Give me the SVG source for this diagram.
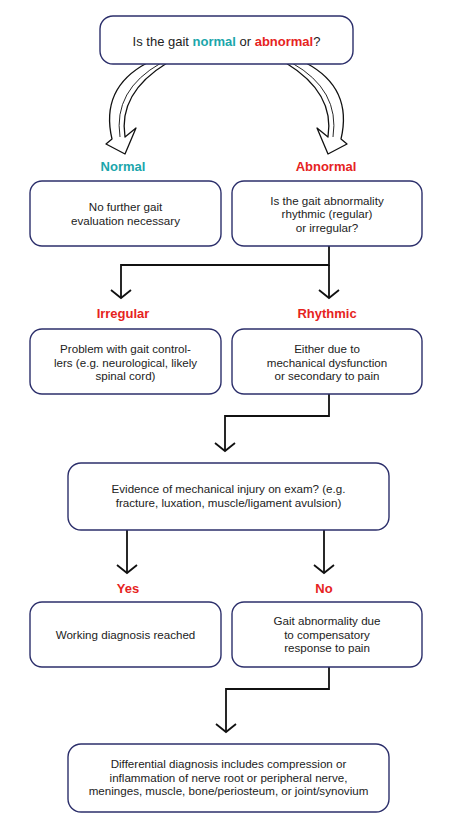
<svg xmlns="http://www.w3.org/2000/svg" width="450" height="832" viewBox="0 0 450 832">
<defs>
<style>
.box{fill:#fff;stroke:#2c2f6b;stroke-width:1.4}
.t{font-family:"Liberation Sans",Arial,sans-serif;font-size:11.6px;fill:#222;text-anchor:middle}
.q{font-size:13px}
.lab{font-family:"Liberation Sans",Arial,sans-serif;font-size:13px;font-weight:bold;text-anchor:middle}
.teal{fill:#1ba6ab}
.red{fill:#e6231e}
.con{fill:none;stroke:#111;stroke-width:1.8}
.curv{fill:#fff;stroke:#111;stroke-width:1.3;stroke-linejoin:round}
.inner{fill:none;stroke:#111;stroke-width:0.9}
</style>
<marker id="ah" markerUnits="userSpaceOnUse" markerWidth="12" markerHeight="24" viewBox="-10 -12 12 24" refX="0" refY="0" orient="auto">
<path d="M-8,-10 L0,0 L-8,10" fill="none" stroke="#111" stroke-width="1.8"/>
</marker>
</defs>
<rect width="450" height="832" fill="#fff"/>
<g id="connectors">
<g id="curved-left">
<path class="curv" d="M147,63 Q100,88 112,139 L106,144 L125,154 L136,128 L125,137 Q118,93 167,63 Z"/>
<path class="inner" d="M161,63 Q113,90 120,137"/>
</g>
<g id="curved-right" transform="translate(453,0) scale(-1,1)">
<path class="curv" d="M147,63 Q100,88 112,139 L106,144 L125,154 L136,128 L125,137 Q118,93 167,63 Z"/>
<path class="inner" d="M161,63 Q113,90 120,137"/>
</g>
<path class="con" d="M329,246 V265 H121 V298" marker-end="url(#ah)"/>
<path class="con" d="M329,265 V298" marker-end="url(#ah)"/>
<path class="con" d="M329,394 V416 H225 V451" marker-end="url(#ah)"/>
<path class="con" d="M127,530 V573" marker-end="url(#ah)"/>
<path class="con" d="M324,530 V573" marker-end="url(#ah)"/>
<path class="con" d="M329,667 V689 H226 V732" marker-end="url(#ah)"/>
</g>
<g id="n-start">
<rect class="box" x="100" y="16" width="253" height="48" rx="13"/>
<text class="t q" x="226.5" y="46">Is the gait <tspan class="teal" font-weight="bold">normal</tspan> or <tspan class="red" font-weight="bold">abnormal</tspan>?</text>
</g>
<g id="l-normal"><text class="lab teal" x="123" y="171">Normal</text></g>
<g id="l-abnormal"><text class="lab red" x="326" y="171">Abnormal</text></g>
<g id="n-normal">
<rect class="box" x="30" y="181" width="191" height="65" rx="12"/>
<text class="t" x="125.5" y="211">No further gait</text>
<text class="t" x="125.5" y="224.5">evaluation necessary</text>
</g>
<g id="n-abnormal">
<rect class="box" x="232" y="181" width="190" height="65" rx="12"/>
<text class="t" x="327" y="204.5">Is the gait abnormality</text>
<text class="t" x="327" y="218">rhythmic (regular)</text>
<text class="t" x="327" y="231.5">or irregular?</text>
</g>
<g id="l-irregular"><text class="lab red" x="123" y="318">Irregular</text></g>
<g id="l-rhythmic"><text class="lab red" x="327" y="318">Rhythmic</text></g>
<g id="n-irregular">
<rect class="box" x="30" y="329" width="191" height="65" rx="12"/>
<text class="t" x="125.5" y="353">Problem with gait control-</text>
<text class="t" x="125.5" y="366.5">lers (e.g. neurological, likely</text>
<text class="t" x="125.5" y="380">spinal cord)</text>
</g>
<g id="n-rhythmic">
<rect class="box" x="232" y="329" width="190" height="65" rx="12"/>
<text class="t" x="327" y="353">Either due to</text>
<text class="t" x="327" y="366.5">mechanical dysfunction</text>
<text class="t" x="327" y="380">or secondary to pain</text>
</g>
<g id="n-evidence">
<rect class="box" x="68" y="463" width="321" height="67" rx="13"/>
<text class="t" x="228.5" y="493">Evidence of mechanical injury on exam? (e.g.</text>
<text class="t" x="228.5" y="506.5">fracture, luxation, muscle/ligament avulsion)</text>
</g>
<g id="l-yes"><text class="lab red" x="128" y="593">Yes</text></g>
<g id="l-no"><text class="lab red" x="324" y="593">No</text></g>
<g id="n-yes">
<rect class="box" x="30" y="602" width="191" height="65" rx="12"/>
<text class="t" x="125.5" y="639">Working diagnosis reached</text>
</g>
<g id="n-no">
<rect class="box" x="232" y="602" width="190" height="65" rx="12"/>
<text class="t" x="327" y="625">Gait abnormality due</text>
<text class="t" x="327" y="638.5">to compensatory</text>
<text class="t" x="327" y="652">response to pain</text>
</g>
<g id="n-differential">
<rect class="box" x="68" y="744" width="321" height="68" rx="13"/>
<text class="t" x="228.5" y="768">Differential diagnosis includes compression or</text>
<text class="t" x="228.5" y="781.5">inflammation of nerve root or peripheral nerve,</text>
<text class="t" x="228.5" y="795">meninges, muscle, bone/periosteum, or joint/synovium</text>
</g>
</svg>
